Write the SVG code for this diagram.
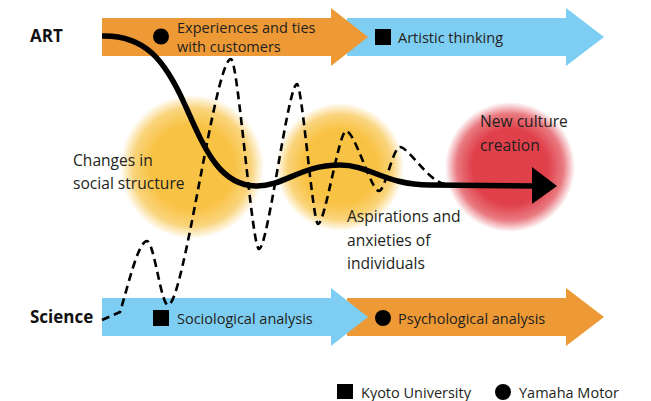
<svg xmlns="http://www.w3.org/2000/svg" width="651" height="401" viewBox="0 0 651 401">
<style>
.t{font-family:"Open Sans","Noto Sans",sans-serif;fill:#231f20;}
.s{font-size:14.5px;}
.m{font-size:15.6px;}
.b{font-family:"Open Sans","Noto Sans",sans-serif;font-weight:bold;font-size:17px;fill:#111;}
.or{fill:#ED9935;}
.bl{fill:#7ECEF3;}
</style>
<defs>
<radialGradient id="gy">
<stop offset="0" stop-color="#F8C244"/>
<stop offset="0.58" stop-color="#F8C244"/>
<stop offset="0.82" stop-color="#F8C244" stop-opacity="0.7"/>
<stop offset="1" stop-color="#F8C244" stop-opacity="0"/>
</radialGradient>
<radialGradient id="gr">
<stop offset="0" stop-color="#E0404A"/>
<stop offset="0.58" stop-color="#E0404A"/>
<stop offset="0.82" stop-color="#E0404A" stop-opacity="0.7"/>
<stop offset="1" stop-color="#E0404A" stop-opacity="0"/>
</radialGradient>
</defs>
<rect width="651" height="401" fill="#fff"/>
<g id="art-bar">
<path class="bl" d="M347,18 H566 V8 L604,37 L566,66 V56 H347 Z"/>
<path class="or" d="M102,18 H331 V8 L368,37 L331,66 V56 H102 Z"/>
</g>
<g id="science-bar">
<path class="or" d="M347,298 H566 V288 L604,317 L566,346 V336 H347 Z"/>
<path class="bl" d="M102,298 H331 V288 L368,317 L331,346 V336 H102 Z"/>
</g>
<g id="glows">
<circle id="glow-social" cx="192" cy="167" r="72" fill="url(#gy)"/>
<circle id="glow-individual" cx="340" cy="167" r="64" fill="url(#gy)"/>
<circle id="glow-culture" cx="510" cy="167" r="65" fill="url(#gr)"/>
</g>
<g id="connectors" fill="none" stroke="#000">
<path stroke-width="2.6" stroke-dasharray="8,5" d="M102,320 L120,312 C127,290 138,241 147,241 C154,241 161,305 168,305 C184,305 215,59 231,59 C238,59 252,249 259,249 C268,249 288,84 297,84 C302,84 313,224 318,224 C325,224 339,131 346,131 C355,131 371,191 379,191 C385,191 393,147 400,147 C408,147 430,183 445,184"/>
<path stroke-width="5.5" d="M102,36 C145,35 165,60 185,105 C205,150 220,186 257,186 C285,186 300,165 340,165 C370,165 385,185 430,185 L534,186"/>
<polygon fill="#000" stroke="none" points="532,167 557,186 532,204"/>
</g>
<g id="label-art"><text class="b" x="30" y="42">ART</text></g>
<g id="label-science"><text class="b" x="30" y="323">Science</text></g>
<g id="node-experiences">
<circle cx="161" cy="36.5" r="8" fill="#000"/>
<text class="t s" x="177" y="33">Experiences and ties</text>
<text class="t s" x="177" y="52">with customers</text>
</g>
<g id="node-artistic">
<rect x="375" y="29" width="16" height="16" fill="#000"/>
<text class="t s" x="398" y="43">Artistic thinking</text>
</g>
<g id="node-sociological">
<rect x="153" y="310" width="16" height="16" fill="#000"/>
<text class="t s" x="177" y="324">Sociological analysis</text>
</g>
<g id="node-psychological">
<circle cx="383" cy="318" r="8" fill="#000"/>
<text class="t s" x="398" y="324">Psychological analysis</text>
</g>
<g id="node-changes">
<text class="t m" x="73" y="166">Changes in</text>
<text class="t m" x="73" y="189">social structure</text>
</g>
<g id="node-aspirations">
<text class="t m" x="347" y="222">Aspirations and</text>
<text class="t m" x="347" y="246">anxieties of</text>
<text class="t m" x="347" y="269">individuals</text>
</g>
<g id="node-culture">
<text class="t m" x="480" y="127">New culture</text>
<text class="t m" x="480" y="151">creation</text>
</g>
<g id="legend">
<rect x="337" y="384" width="16" height="15" fill="#000"/>
<text class="t s" x="361" y="398">Kyoto University</text>
<circle cx="503" cy="392" r="8" fill="#000"/>
<text class="t s" x="519" y="398">Yamaha Motor</text>
</g>
</svg>
